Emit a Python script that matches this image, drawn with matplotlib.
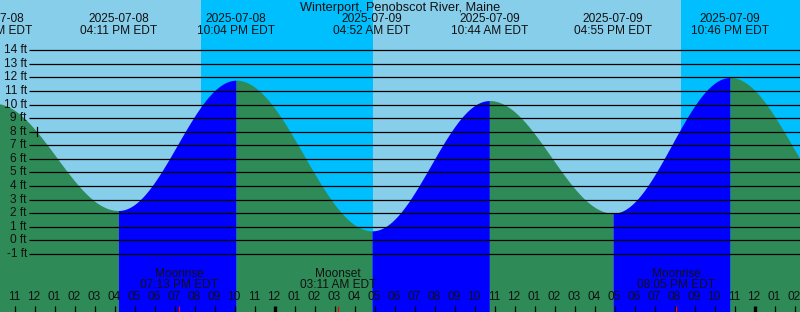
import numpy as np
import matplotlib
matplotlib.use("Agg")
import matplotlib.pyplot as plt
import matplotlib.transforms as mtransforms

plt.rcParams['font.family'] = ['Liberation Sans', 'DejaVu Sans']

# ---------------- data (hours since 2025-07-08 00:00 EDT) ----------------
title = "Winterport, Penobscot River, Maine"

tide_hours = [9 + 58/60, 16 + 11/60, 22 + 4/60, 24 + 4 + 52/60,
              24 + 10 + 44/60, 24 + 16 + 55/60, 24 + 22 + 46/60, 48 + 4 + 58/60]
tide_heights = [10.1, 2.2, 11.8, 0.7, 10.3, 2.0, 12.0, 2.0]
tide_dates = ["2025-07-08", "2025-07-08", "2025-07-08", "2025-07-09",
              "2025-07-09", "2025-07-09", "2025-07-09", "2025-07-10"]
tide_times = ["09:58 AM EDT", "04:11 PM EDT", "10:04 PM EDT", "04:52 AM EDT",
              "10:44 AM EDT", "04:55 PM EDT", "10:46 PM EDT", "04:58 AM EDT"]

sunset_hours = [20 + 19/60, 24 + 20 + 19/60]
sunrise_hours = [24 + 4 + 55/60, 48 + 4 + 55/60]

moon_hours = [19 + 13/60, 24 + 3 + 11/60, 24 + 20 + 5/60, 48 + 4 + 11/60]
moon_kinds = ["Moonrise", "Moonset", "Moonrise", "Moonset"]
moon_times = ["07:13 PM EDT", "03:11 AM EDT", "08:05 PM EDT", "04:11 AM EDT"]

now_hour = 12 + 8/60
now_level = 8

ft_levels = list(range(-1, 15))

# ---------------- layout ----------------
W, H = 800, 312
X0, X1 = 10.265, 50.265          # hours visible
Y0, Y1 = -5.28, 17.71            # feet visible

fig = plt.figure(figsize=(W/100, H/100), dpi=100)
ax = fig.add_axes([0, 0, 1, 1])
ax.set_xlim(X0, X1)
ax.set_ylim(Y0, Y1)
ax.axis('off')

def hx(px):
    return X0 + px / W * (X1 - X0)

def fy(py):  # pixel from top -> axes fraction
    return 1 - py / H

bt = mtransforms.blended_transform_factory(ax.transData, ax.transAxes)

DAY = '#87CEEB'
NIGHT = '#00BFFF'
RISE = '#0000FF'
FALL = '#2E8B57'
TXT = '#111111'
FS = 8.6

# background day/night
ax.axvspan(X0, X1, color=DAY, zorder=0, lw=0)
for ss, sr in zip(sunset_hours, sunrise_hours):
    ax.axvspan(ss, sr, color=NIGHT, zorder=0.5, lw=0)

# tide curve between successive extremes
for i in range(len(tide_hours) - 1):
    t0, t1 = tide_hours[i], tide_hours[i + 1]
    h0, h1 = tide_heights[i], tide_heights[i + 1]
    tt = np.linspace(t0, t1, 200)
    vv = (h0 + h1) / 2 + (h0 - h1) / 2 * np.cos(np.pi * (tt - t0) / (t1 - t0))
    col = RISE if h1 > h0 else FALL
    ax.fill_between(tt, Y0, vv, color=col, lw=0, zorder=1)

# horizontal foot lines and labels
for v in ft_levels:
    ax.plot([hx(29), X1], [v, v], color='black', lw=0.9, zorder=3,
            solid_capstyle='butt')
    ax.text(hx(27), v, f"{v} ft", ha='right', va='center', fontsize=FS,
            color=TXT, zorder=4)

# current-time marker
ax.plot([now_hour, now_hour], [now_level - 0.33, now_level + 0.33],
        color='black', lw=0.9, zorder=4)

# title
ax.text(0.5, fy(7.5), title, transform=ax.transAxes, ha='center', va='center',
        fontsize=9.2, color=TXT, zorder=5)

# tide labels (only those whose text reaches the visible window)
for t, d, tm in zip(tide_hours, tide_dates, tide_times):
    if t > X1 + 1.5:
        continue
    ax.text(t, fy(19.5), d, transform=bt, ha='center', va='center',
            fontsize=FS, color=TXT, zorder=5)
    ax.text(t, fy(31.3), tm, transform=bt, ha='center', va='center',
            fontsize=FS, color=TXT, zorder=5)

# moon labels
for t, k, tm in zip(moon_hours, moon_kinds, moon_times):
    ax.text(t, fy(274.3), k, transform=bt, ha='center', va='center',
            fontsize=FS, color=TXT, zorder=5)
    ax.text(t, fy(285.3), tm, transform=bt, ha='center', va='center',
            fontsize=FS, color=TXT, zorder=5)
    ax.plot([t, t], [fy(306), fy(312)], transform=bt, color='red', lw=0.9,
            zorder=6, solid_capstyle='butt')

# hour ticks
for h in range(int(np.ceil(X0)), int(np.floor(X1)) + 1):
    hh = h % 12
    lab = f"{(hh if hh else 12):02d}"
    ax.text(h - 0.03, fy(297.5), lab, transform=bt, ha='center', va='center',
            fontsize=FS, color=TXT, zorder=5)
    lw = 2.4 if h % 24 == 0 else 0.9
    ax.plot([h, h], [fy(306), fy(312)], transform=bt, color='black', lw=lw,
            zorder=5, solid_capstyle='butt')

fig.savefig("out.png", dpi=100)
